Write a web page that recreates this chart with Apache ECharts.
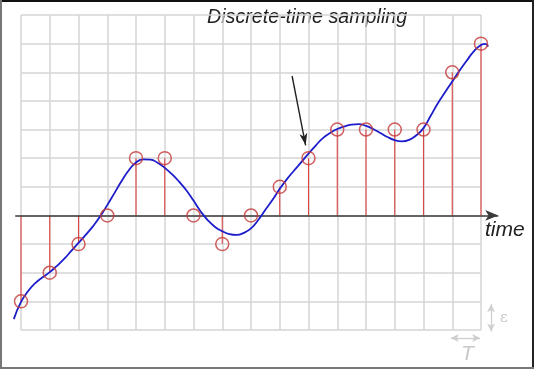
<!DOCTYPE html>
<html><head><meta charset="utf-8">
<script src="https://cdn.jsdelivr.net/npm/echarts@6/dist/echarts.min.js"></script>
<style>html,body{margin:0;padding:0;background:#fff}#c{width:534px;height:369px}</style>
</head><body><div id="c"></div>
<script>
// sample instants (multiples of T) and sampled values (multiples of epsilon)
const sampleTimes = [0,1,2,3,4,5,6,7,8,9,10,11,12,13,14,15,16];
const sampleValues = [-3,-2,-1,0,2,2,0,-1,0,1,2,3,3,3,3,5,6];
// continuous-time signal
const curveTimes = [-0.25,0,0.25,0.5,0.75,1,1.25,1.5,1.75,2,2.25,2.5,2.75,3,3.25,3.5,3.75,4,4.25,4.5,4.75,5,5.25,5.5,5.75,6,6.25,6.5,6.75,7,7.25,7.5,7.75,8,8.25,8.5,8.75,9,9.25,9.5,9.75,10,10.25,10.5,10.75,11,11.25,11.5,11.75,12,12.25,12.5,12.75,13,13.25,13.5,13.75,14,14.25,14.5,14.75,15,15.25,15.5,15.75,16,16.15,16.25];
const curveValues = [-3.62,-3.02,-2.64,-2.36,-2.16,-1.98,-1.76,-1.52,-1.24,-0.96,-0.68,-0.38,-0.04,0.36,0.78,1.2,1.58,1.85,1.96,1.95,1.84,1.66,1.44,1.18,0.88,0.52,0.14,-0.17,-0.4,-0.55,-0.65,-0.68,-0.61,-0.45,-0.16,0.2,0.55,0.93,1.27,1.57,1.86,2.16,2.44,2.7,2.88,3.02,3.11,3.17,3.19,3.13,3.02,2.88,2.74,2.63,2.59,2.64,2.8,3.05,3.48,3.92,4.3,4.68,5.05,5.4,5.73,5.95,5.99,5.9];
const titleText = 'Discrete-time sampling';
const timeLabel = 'time';
const epsLabel = 'ε';
const periodLabel = 'T';

const chart = echarts.init(document.getElementById('c'), null, {renderer: 'canvas'});
const curveData = curveTimes.map((t, i) => [t, curveValues[i]]);
const sampleData = sampleTimes.map((t, i) => [t, sampleValues[i]]);

const unitX = 460 / 16, unitY = 315 / 11;
const hidden = {axisLine: {show: false}, axisTick: {show: false}, axisLabel: {show: false}, splitLine: {show: false}};

const option = {
  animation: false,
  backgroundColor: '#fff',
  grid: [
    {left: 21, width: 460, top: 15, height: 315, containLabel: false},
    // overlay grid with the same pixel scale but a wider range, for the time axis, curve ends and annotations
    {left: 21 - 0.5 * unitX, width: 18 * unitX, top: 15, height: 12 * unitY, containLabel: false}
  ],
  xAxis: [
    {type: 'value', gridIndex: 0, min: 0, max: 16, interval: 1,
      axisLine: {show: false}, axisTick: {show: false}, axisLabel: {show: false},
      splitLine: {show: true, lineStyle: {color: '#d4d4d4', width: 1.5}}},
    Object.assign({type: 'value', gridIndex: 1, min: -0.5, max: 17.5}, hidden)
  ],
  yAxis: [
    {type: 'value', gridIndex: 0, min: -4, max: 7, interval: 1,
      axisLine: {show: false}, axisTick: {show: false}, axisLabel: {show: false},
      splitLine: {show: true, lineStyle: {color: '#d4d4d4', width: 1.5}}},
    Object.assign({type: 'value', gridIndex: 1, min: -5, max: 7}, hidden)
  ],
  series: [
    {
      type: 'line', xAxisIndex: 1, yAxisIndex: 1, data: [], clip: false, silent: true, z: 4,
      markLine: {
        silent: true, animation: false,
        label: {show: false},
        data: [
          [{coord: [-0.2, 0], symbol: 'none'}, {coord: [16.6, 0], symbol: 'arrow', symbolSize: [8, 13],
            lineStyle: {color: '#3a3a3a', width: 1.6, type: 'solid'}}],
          [{coord: [9.43, 4.87], symbol: 'none'}, {coord: [9.9, 2.45], symbol: 'arrow', symbolSize: [6, 12],
            lineStyle: {color: '#222', width: 1.4, type: 'solid'}}],
          [{coord: [16.35, -3.1], symbol: 'arrow', symbolSize: [6, 8]}, {coord: [16.35, -4.05], symbol: 'arrow', symbolSize: [6, 8],
            lineStyle: {color: '#cfcfcf', width: 1.3, type: 'solid'}}],
          [{coord: [14.95, -4.28], symbol: 'arrow', symbolSize: [6, 8]}, {coord: [15.97, -4.28], symbol: 'arrow', symbolSize: [6, 8],
            lineStyle: {color: '#cfcfcf', width: 1.3, type: 'solid'}}]
        ]
      }
    },
    {
      type: 'custom', z: 3, clip: false, silent: true,
      data: sampleData,
      renderItem: function (params, api) {
        const p0 = api.coord([api.value(0), 0]);
        const p1 = api.coord([api.value(0), api.value(1)]);
        return {type: 'line', shape: {x1: p0[0], y1: p0[1], x2: p1[0], y2: p1[1]},
          style: {stroke: '#de4545', lineWidth: 1.1}};
      }
    },
    {
      type: 'line', xAxisIndex: 1, yAxisIndex: 1, data: curveData, smooth: 0.5, showSymbol: false,
      clip: false, z: 5, silent: true,
      lineStyle: {color: '#1d1dcc', width: 1.8}
    },
    {
      type: 'scatter', data: sampleData, symbol: 'circle', symbolSize: 13, z: 6, silent: true,
      itemStyle: {color: 'rgba(255,255,255,0)', borderColor: '#c43838', borderWidth: 1.5}
    }
  ],
  graphic: [
    {type: 'text', left: 207, top: 8, style: {text: titleText, font: 'italic 19.7px "Liberation Sans", Arial, sans-serif', fill: '#222'}},
    {type: 'text', left: 485, top: 220, style: {text: timeLabel, font: 'italic 21px "Liberation Sans", Arial, sans-serif', fill: '#222'}},
    {type: 'text', left: 500, top: 311, style: {text: epsLabel, font: '15px "DejaVu Serif", serif', fill: '#c8c8c8'}},
    {type: 'text', left: 461, top: 344, style: {text: periodLabel, font: 'italic 21px "Liberation Sans", Arial, sans-serif', fill: '#c8c8c8'}},
    {type: 'rect', shape: {x: 0, y: 0, width: 534, height: 2}, style: {fill: '#111'}},
    {type: 'rect', shape: {x: 532, y: 0, width: 2, height: 369}, style: {fill: '#222'}},
    {type: 'rect', shape: {x: 0, y: 367, width: 534, height: 2}, style: {fill: '#777'}},
    {type: 'rect', shape: {x: 0, y: 0, width: 2, height: 369}, style: {fill: '#777'}}
  ]
};
chart.setOption(option);
</script>
</body></html>
